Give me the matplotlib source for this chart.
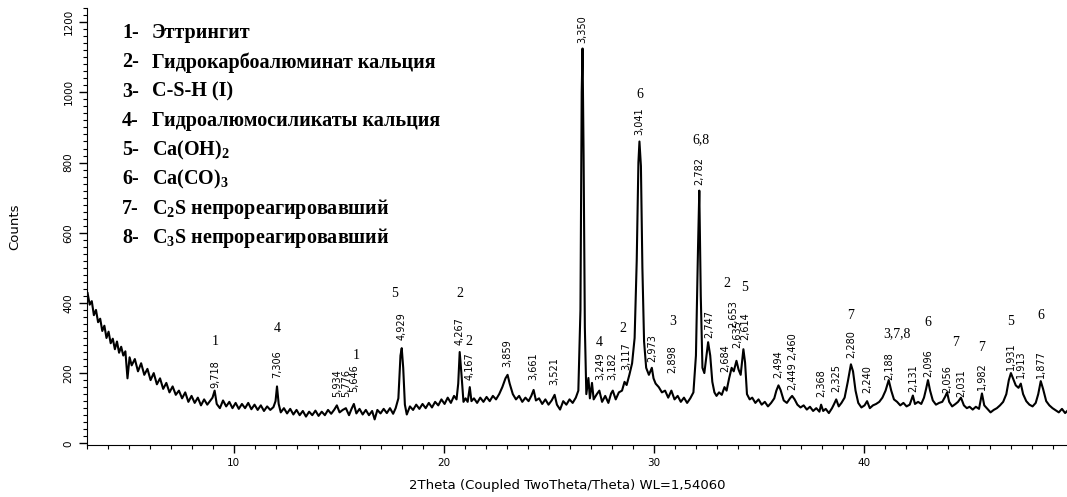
import matplotlib
matplotlib.use("Agg")
import matplotlib.pyplot as plt
from matplotlib.ticker import MultipleLocator

plt.rcParams["mathtext.fontset"] = "custom"
plt.rcParams["mathtext.rm"] = "Liberation Serif"
plt.rcParams["mathtext.bf"] = "Liberation Serif:bold"

NARROW = ["Liberation Sans Narrow", "DejaVu Sans"]
SERIF = ["Liberation Serif", "DejaVu Serif"]

# diffractogram trace: 2theta (deg) and counts
two_theta = [
    3.05, 3.15, 3.25, 3.35, 3.45, 3.55, 3.65, 3.75, 3.85, 3.95, 4.05, 4.15, 4.25, 4.35,
    4.45, 4.55, 4.65, 4.75, 4.85, 4.95, 5.05, 5.15, 5.3, 5.45, 5.6, 5.75, 5.9, 6.05, 6.2,
    6.35, 6.5, 6.65, 6.8, 6.95, 7.1, 7.25, 7.4, 7.55, 7.7, 7.85, 8.0, 8.15, 8.3, 8.45,
    8.6, 8.75, 8.9, 9.0, 9.1, 9.2, 9.35, 9.5, 9.65, 9.8, 9.95, 10.1, 10.25, 10.4, 10.55,
    10.7, 10.85, 11.0, 11.15, 11.3, 11.45, 11.6, 11.75, 11.9, 12.0, 12.07, 12.15, 12.25,
    12.4, 12.55, 12.7, 12.85, 13.0, 13.15, 13.3, 13.45, 13.6, 13.75, 13.9, 14.05, 14.2,
    14.35, 14.5, 14.65, 14.8, 14.92, 15.05, 15.2, 15.35, 15.5, 15.62, 15.73, 15.85, 16.0,
    16.15, 16.3, 16.45, 16.6, 16.72, 16.85, 17.0, 17.15, 17.3, 17.45, 17.6, 17.72, 17.85,
    17.95, 18.01, 18.08, 18.16, 18.25, 18.4, 18.55, 18.7, 18.85, 19.0, 19.15, 19.3, 19.45,
    19.6, 19.75, 19.9, 20.05, 20.2, 20.35, 20.5, 20.62, 20.7, 20.77, 20.85, 20.95, 21.05,
    21.15, 21.25, 21.33, 21.45, 21.6, 21.75, 21.9, 22.05, 22.2, 22.35, 22.5, 22.65, 22.8,
    22.95, 23.05, 23.15, 23.3, 23.45, 23.6, 23.75, 23.9, 24.05, 24.18, 24.29, 24.4, 24.55,
    24.7, 24.85, 25.0, 25.15, 25.29, 25.4, 25.55, 25.7, 25.85, 26.0, 26.15, 26.3, 26.42,
    26.52, 26.58, 26.62, 26.67, 26.73, 26.8, 26.9, 26.97, 27.07, 27.15, 27.3, 27.42, 27.55,
    27.7, 27.85, 27.98, 28.06, 28.2, 28.35, 28.5, 28.62, 28.72, 28.85, 28.98, 29.1, 29.2,
    29.28, 29.33, 29.4, 29.47, 29.55, 29.65, 29.78, 29.92, 30.0, 30.1, 30.25, 30.4, 30.55,
    30.7, 30.85, 31.0, 31.15, 31.3, 31.45, 31.6, 31.75, 31.9, 32.02, 32.12, 32.18, 32.25,
    32.33, 32.42, 32.52, 32.6, 32.7, 32.8, 32.9, 33.0, 33.12, 33.25, 33.38, 33.48, 33.6,
    33.72, 33.82, 33.95, 34.05, 34.15, 34.28, 34.36, 34.45, 34.58, 34.7, 34.85, 35.0, 35.15,
    35.3, 35.45, 35.6, 35.75, 35.85, 35.95, 36.05, 36.2, 36.35, 36.5, 36.6, 36.72, 36.85,
    37.0, 37.15, 37.3, 37.45, 37.6, 37.75, 37.9, 37.98, 38.08, 38.2, 38.35, 38.5, 38.6,
    38.7, 38.82, 38.95, 39.1, 39.25, 39.4, 39.5, 39.62, 39.75, 39.9, 40.05, 40.17, 40.3,
    40.45, 40.6, 40.75, 40.9, 41.05, 41.2, 41.32, 41.45, 41.6, 41.75, 41.9, 42.05, 42.2,
    42.35, 42.45, 42.6, 42.75, 42.88, 42.98, 43.07, 43.17, 43.3, 43.45, 43.6, 43.75, 43.88,
    43.98, 44.08, 44.22, 44.38, 44.5, 44.64, 44.78, 44.92, 45.05, 45.2, 45.35, 45.5, 45.64,
    45.75, 45.9, 46.05, 46.2, 46.35, 46.5, 46.65, 46.8, 46.92, 47.02, 47.12, 47.25, 47.38,
    47.49, 47.6, 47.75, 47.9, 48.05, 48.2, 48.32, 48.44, 48.55, 48.7, 48.85, 49.0, 49.15,
    49.3, 49.45, 49.6, 49.75, 49.9, 50.0,
]
counts = [
    428, 395, 405, 365, 380, 345, 355, 320, 335, 300, 318, 285, 298, 268,
    290, 258, 275, 250, 262, 185, 245, 222, 240, 205, 228, 195, 212, 180, 200,
    168, 185, 155, 172, 145, 162, 138, 150, 128, 145, 118, 135, 115, 130, 108,
    125, 110, 122, 130, 150, 112, 100, 122, 105, 118, 100, 115, 98, 112, 100,
    115, 97, 110, 95, 108, 92, 105, 95, 103, 120, 162, 112, 88,
    100, 85, 98, 82, 95, 80, 92, 76, 90, 80, 93, 78, 90,
    80, 95, 84, 96, 108, 88, 95, 100, 80, 98, 112, 85, 98,
    82, 95, 80, 92, 68, 95, 85, 98, 86, 100, 84, 100, 128,
    250, 271, 215, 110, 82, 105, 95, 110, 98, 112, 100, 115, 102,
    118, 108, 125, 112, 130, 115, 135, 125, 170, 260, 200, 118, 128,
    118, 160, 120, 128, 115, 130, 118, 132, 120, 135, 125, 140, 160,
    185, 195, 170, 140, 125, 135, 118, 130, 120, 135, 152, 122, 128,
    112, 125, 110, 122, 138, 110, 96, 120, 110, 125, 115, 130, 150,
    380, 1000, 1125, 820, 330, 140, 186, 128, 172, 125, 140, 150, 118,
    135, 115, 142, 150, 125, 145, 150, 175, 166, 195, 228, 300, 520,
    800, 860, 790, 500, 290, 215, 195, 215, 185, 170, 160, 145, 150,
    130, 150, 125, 135, 118, 130, 115, 128, 145, 250, 560, 720, 420,
    215, 200, 250, 288, 250, 175, 145, 135, 145, 138, 160, 150, 185,
    215, 205, 235, 210, 195, 268, 230, 140, 125, 130, 115, 125, 110,
    118, 105, 115, 128, 150, 165, 152, 122, 115, 128, 135, 125, 110,
    102, 108, 96, 104, 92, 100, 90, 110, 92, 98, 86, 100, 112,
    125, 105, 115, 130, 175, 225, 205, 150, 115, 102, 108, 120, 100,
    108, 112, 118, 130, 150, 180, 150, 125, 118, 108, 115, 105, 110,
    136, 112, 118, 112, 130, 155, 180, 150, 122, 110, 115, 118, 132,
    145, 118, 105, 112, 118, 130, 108, 100, 104, 96, 104, 98, 142,
    108, 98, 88, 95, 100, 108, 118, 140, 180, 200, 185, 165, 158,
    170, 140, 120, 110, 105, 115, 140, 177, 155, 120, 108, 100, 94,
    88, 98, 86, 95, 90, 95,
]

# interplanar spacing labels: position, height of label foot, text
d_pos = [9.12, 12.07, 14.92, 15.35, 15.73, 18.01, 20.77, 21.25, 23.05, 24.29, 25.29,
         26.62, 27.47, 28.04, 28.71, 29.33, 29.95, 30.90, 32.18, 32.66, 33.42, 33.80,
         33.99, 34.37, 35.94, 36.60, 36.60, 37.98, 38.69, 39.40, 40.17, 41.21, 42.35,
         43.07, 43.98, 44.64, 45.64, 47.02, 47.49, 48.44]
d_foot = [158, 186, 132, 132, 146, 295, 280, 180, 218, 181, 167,
          1140, 181, 181, 209, 878, 232, 200, 736, 300, 203, 328,
          271, 294, 186, 152, 238, 132, 146, 243, 143, 180, 146,
          189, 143, 132, 152, 209, 186, 186]
d_text = ["9,718", "7,306", "5,934", "5,776", "5,646", "4,929", "4,267", "4,167",
          "3,859", "3,661", "3,521", "3,350", "3,249", "3,182", "3,117", "3,041",
          "2,973", "2,898", "2,782", "2,747", "2,684", "2,653", "2,635", "2,614",
          "2,494", "2,449", "2,460", "2,368", "2,325", "2,280", "2,240", "2,188",
          "2,131", "2,096", "2,056", "2,031", "1,982", "1,931", "1,913", "1,877"]

# phase numbers over the peaks
ph_pos = [9.12, 12.07, 15.82, 17.68, 20.77, 21.2, 27.42, 28.52, 29.33, 30.9, 32.28,
          33.47, 34.32, 39.36, 41.6, 43.07, 44.36, 45.64, 47.02, 48.44]
ph_y = [289, 326, 249, 428, 428, 289, 286, 326, 995, 348, 864,
        454, 443, 363, 311, 343, 286, 272, 348, 363]
ph_text = ["1", "4", "1", "5", "2", "2", "4", "2", "6", "3", "6,8",
           "2", "5", "7", "3,7,8", "6", "7", "7", "5", "6"]

legend_num = ["1-", "2-", "3-", "4-", "5-", "6-", "7-", "8-"]
legend_text = ["Эттрингит", "Гидрокарбоалюминат кальция", "C-S-H (I)",
               "Гидроалюмосиликаты кальция", r"Ca(OH)$_\mathbf{2}$", r"Ca(CO)$_\mathbf{3}$",
               r"C$_\mathbf{2}$S непрореагировавший", r"C$_\mathbf{3}$S непрореагировавший"]

fig = plt.figure(figsize=(10.67, 4.97), dpi=100)
ax = fig.add_axes([0.0811, 0.1046, 0.925, 0.879])
ax.plot(two_theta, counts, color="black", lw=1.5)
ax.set_xlim(3, 50)
ax.set_ylim(-5, 1240)

for s in ("top", "right"):
    ax.spines[s].set_visible(False)
ax.xaxis.set_major_locator(MultipleLocator(10))
ax.xaxis.set_minor_locator(MultipleLocator(1))
ax.yaxis.set_major_locator(MultipleLocator(200))
ax.yaxis.set_minor_locator(MultipleLocator(20))
ax.tick_params(which="major", length=6, width=1, labelsize=7.5)
ax.tick_params(which="minor", length=3, width=0.8)
for lab in ax.get_yticklabels():
    lab.set_rotation(90)
    lab.set_va("center")
    lab.set_family(NARROW)
for lab in ax.get_xticklabels():
    lab.set_family(NARROW)
ax.set_ylabel("Counts", fontsize=9.5, labelpad=30)

fig.text(567 / 1067, 1 - 486 / 497, "2Theta (Coupled TwoTheta/Theta) WL=1,54060",
         ha="center", va="center", fontsize=9.5, family=NARROW)

for x, y, t in zip(d_pos, d_foot, d_text):
    ax.text(x, y, t, rotation=90, ha="center", va="bottom", fontsize=7,
            family=NARROW)
for x, y, t in zip(ph_pos, ph_y, ph_text):
    ax.text(x, y, t, ha="center", va="center", fontsize=10, family=SERIF)

for i, (n, t) in enumerate(zip(legend_num, legend_text)):
    yy = 1 - (33 + 29.3 * i) / 497
    fig.text(122 / 1067, yy, n, ha="left", va="center", fontsize=14.5,
             family=SERIF, fontweight="bold")
    fig.text(152 / 1067, yy, t, ha="left", va="center", fontsize=14.5,
             family=SERIF, fontweight="bold")

fig.savefig("out.png", dpi=100)
